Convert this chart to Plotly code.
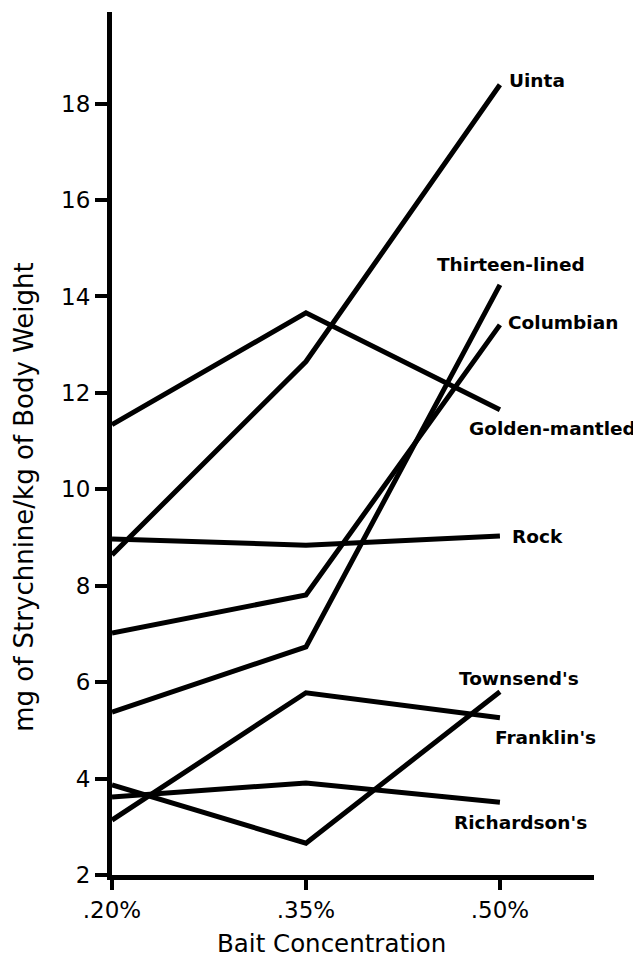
import plotly.graph_objects as go

categories = [".20%", ".35%", ".50%"]
cat_pos = [0, 1, 2]

species = ["Uinta", "Golden-mantled", "Thirteen-lined", "Columbian", "Rock",
           "Townsend's", "Franklin's", "Richardson's"]

uinta = [8.64, 12.65, 18.39]
golden_mantled = [11.34, 13.66, 11.65]
thirteen_lined = [5.38, 6.73, 14.24]
columbian = [7.02, 7.81, 13.41]
rock = [8.97, 8.84, 9.03]
townsends = [3.87, 2.66, 5.80]
franklins = [3.14, 5.78, 5.26]
richardsons = [3.62, 3.91, 3.51]

series = [uinta, golden_mantled, thirteen_lined, columbian, rock,
          townsends, franklins, richardsons]

y_ticks = [2, 4, 6, 8, 10, 12, 14, 16, 18]

# label anchor positions (left edge, vertical middle) in data units
label_x = {"Uinta": 2.036, "Thirteen-lined": 1.665, "Columbian": 2.031,
           "Golden-mantled": 1.83, "Rock": 2.052, "Townsend's": 1.778,
           "Franklin's": 1.964, "Richardson's": 1.753}
label_y = {"Uinta": 18.47, "Thirteen-lined": 14.66, "Columbian": 13.45,
           "Golden-mantled": 11.27, "Rock": 9.03, "Townsend's": 6.07,
           "Franklin's": 4.86, "Richardson's": 3.08}

fig = go.Figure()
for name, vals in zip(species, series):
    fig.add_trace(go.Scatter(x=cat_pos, y=vals, mode="lines", name=name,
                             line=dict(color="black", width=5),
                             cliponaxis=False, showlegend=False))

for name in species:
    fig.add_annotation(x=label_x[name], y=label_y[name], xref="x", yref="y",
                       text=name, showarrow=False, xanchor="left", yanchor="middle",
                       font=dict(family="DejaVu Sans", size=18.5, color="black", weight="bold"))

fig.add_annotation(x=0.456, y=-0.079, xref="paper", yref="paper",
                   text="Bait Concentration", showarrow=False,
                   xanchor="center", yanchor="middle",
                   font=dict(family="DejaVu Sans", size=24.5, color="black"))
fig.add_annotation(x=-0.183, y=0.438, xref="paper", yref="paper",
                   text="mg of Strychnine/kg of Body Weight", showarrow=False,
                   textangle=-90, xanchor="center", yanchor="middle",
                   font=dict(family="DejaVu Sans", size=26, color="black"))

fig.update_layout(
    width=633, height=951,
    margin=dict(l=104, r=47, t=4, b=84),
    paper_bgcolor="white", plot_bgcolor="white",
    font=dict(family="DejaVu Sans", size=23, color="black"),
    xaxis=dict(range=[0, 2.485], tickvals=cat_pos, ticktext=categories,
               showgrid=False, zeroline=False, showline=True, linecolor="black",
               linewidth=5, ticks="outside", ticklen=10, tickwidth=4,
               tickcolor="black", tickfont=dict(size=23)),
    yaxis=dict(range=[2, 19.9], tickvals=y_ticks, showgrid=False, zeroline=False,
               showline=True, linecolor="black", linewidth=5, ticks="outside",
               ticklen=12, tickwidth=4, tickcolor="black", tickfont=dict(size=23)),
)

fig.write_html("out.html")
